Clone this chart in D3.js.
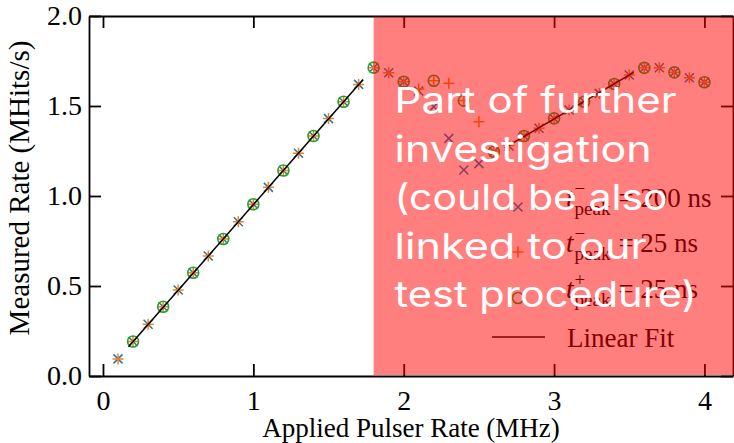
<!DOCTYPE html>
<meta charset="utf-8">
<style>

body { margin: 0; background: #fff; }

.axis text {
  font-family: "Liberation Serif", serif;
  font-size: 28px;
  fill: #000;
}

.axis path, .axis line {
  stroke: #000;
  stroke-width: 1.8px;
}

.fit {
  fill: none;
  stroke: #000;
  stroke-width: 1.5px;
}

.title, .legend text {
  font-family: "Liberation Serif", serif;
  font-size: 27px;
  fill: #000;
}

.note {
  font-family: Inter, sans-serif;
  font-size: 36px;
  fill: #fff;
}

</style>
<body>

<script src="https://cdn.jsdelivr.net/npm/d3@7"></script>
<script>

// applied pulser rate (MHz)
var pulserRate = [0.1, 0.2, 0.3, 0.4, 0.5, 0.6, 0.7, 0.8, 0.9, 1.0,
                  1.1, 1.2, 1.3, 1.4, 1.5, 1.6, 1.7, 1.8, 1.9, 2.0,
                  2.1, 2.2, 2.3, 2.4, 2.5, 2.6, 2.7, 2.8, 2.9, 3.0,
                  3.1, 3.2, 3.3, 3.4, 3.5, 3.6, 3.7, 3.8, 3.9, 4.0];

// measured rate (MHits/s), t_peak^- = 200 ns
var rateMinus200 = [0.095, 0.192, 0.287, 0.385, 0.478, 0.574, 0.667, 0.761, 0.857, 0.954,
                    1.048, 1.142, 1.237, 1.333, 1.430, 1.524, 1.620, 1.713, 1.685, 1.635,
                    1.583, 1.496, 1.320, 1.144, 1.180, 1.246, 1.278, 1.333, 1.376, 1.431,
                    1.478, 1.524, 1.570, 1.622, 1.672, 1.712, 1.713, 1.687, 1.657, 1.632];

// t_peak^- = 25 ns
var rateMinus25 = [0.095, 0.192, 0.287, 0.385, 0.478, 0.574, 0.667, 0.761, 0.857, 0.954,
                   1.048, 1.142, 1.237, 1.333, 1.430, 1.524, 1.620, 1.713, 1.685, 1.635,
                   1.595, 1.640, 1.626, 1.530, 1.413, 1.250, 1.280, 1.333, 1.376, 1.431,
                   1.478, 1.524, 1.570, 1.622, 1.672, 1.712, 1.713, 1.687, 1.657, 1.632];

// t_peak^+ = 25 ns (every second rate)
var pulserRatePlus = [0.2, 0.4, 0.6, 0.8, 1.0, 1.2, 1.4, 1.6, 1.8, 2.0,
                      2.2, 2.4, 2.6, 2.8, 3.0, 3.2, 3.4, 3.6, 3.8, 4.0];
var ratePlus25 = [0.192, 0.385, 0.574, 0.761, 0.954, 1.142, 1.333, 1.524, 1.713, 1.635,
                  1.640, 1.530, 1.246, 1.333, 1.431, 1.524, 1.622, 1.712, 1.687, 1.632];

// linear fits: start / end
var fitFrom = [0.17, 2.67];
var fitTo = [1.73, 3.53];
var fitFromRate = [0.162, 1.267];
var fitToRate = [1.647, 1.687];

var xTicks = [0, 1, 2, 3, 4];
var yTicks = [0, 0.5, 1, 1.5, 2];

var legendSign = ["\u2212", "\u2212", "+"];
var legendValue = ["= 200 ns", "= 25 ns", "= 25 ns"];

var highlightFrom = 1.8;
var noteLines = ["Part of further", "investigation", "(could be also", "linked to our", "test procedure)"];

var colors = ["#1f77b4", "#ff7f0e", "#2ca02c"];

var margin = {top: 16, right: 1, bottom: 67, left: 89},
    width = 734 - margin.left - margin.right,
    height = 443 - margin.top - margin.bottom;

var x = d3.scaleLinear().domain([-0.093, 4.19]).range([0, width]);
var y = d3.scaleLinear().domain([0, 2]).range([height, 0]);

var svg = d3.select("body").append("svg")
    .attr("width", width + margin.left + margin.right)
    .attr("height", height + margin.top + margin.bottom)
  .append("g")
    .attr("transform", "translate(" + margin.left + "," + margin.top + ")");

// marker shapes
function crossPath(s) { return "M" + -s + "," + -s + "L" + s + "," + s + "M" + -s + "," + s + "L" + s + "," + -s; }
function plusPath(s) { return "M" + -s + ",0H" + s + "M0," + -s + "V" + s; }

function drawSeries(xs, ys, kind, color) {
  var pts = svg.append("g").selectAll("path")
    .data(d3.zip(xs, ys))
    .enter();
  if (kind === "circle") {
    pts.append("circle")
        .attr("cx", function(d) { return x(d[0]); })
        .attr("cy", function(d) { return y(d[1]); })
        .attr("r", 5.5)
        .attr("fill", "none")
        .attr("stroke", color)
        .attr("stroke-width", 1.6);
  } else {
    pts.append("path")
        .attr("transform", function(d) { return "translate(" + x(d[0]) + "," + y(d[1]) + ")"; })
        .attr("d", kind === "cross" ? crossPath(4.5) : plusPath(5.5))
        .attr("fill", "none")
        .attr("stroke", color)
        .attr("stroke-width", 1.5);
  }
}

drawSeries(pulserRate, rateMinus200, "cross", colors[0]);
drawSeries(pulserRate, rateMinus25, "plus", colors[1]);
drawSeries(pulserRatePlus, ratePlus25, "circle", colors[2]);

// linear fits
svg.append("g").selectAll("line")
    .data(d3.range(fitFrom.length))
    .enter().append("line")
    .attr("class", "fit")
    .attr("x1", function(i) { return x(fitFrom[i]); })
    .attr("y1", function(i) { return y(fitFromRate[i]); })
    .attr("x2", function(i) { return x(fitTo[i]); })
    .attr("y2", function(i) { return y(fitToRate[i]); });

// axes, ticks pointing inward on all four sides
svg.append("g")
    .attr("class", "axis")
    .attr("transform", "translate(0," + height + ")")
    .call(d3.axisBottom(x).tickValues(xTicks).tickFormat(d3.format("d"))
      .tickSizeInner(-12).tickSizeOuter(0).tickPadding(14));

svg.append("g")
    .attr("class", "axis")
    .call(d3.axisTop(x).tickValues(xTicks).tickFormat("")
      .tickSizeInner(-12).tickSizeOuter(0));

svg.append("g")
    .attr("class", "axis")
    .call(d3.axisLeft(y).tickValues(yTicks).tickFormat(d3.format(".1f"))
      .tickSizeInner(-12).tickSizeOuter(0).tickPadding(7));

svg.append("g")
    .attr("class", "axis")
    .attr("transform", "translate(" + width + ",0)")
    .call(d3.axisRight(y).tickValues(yTicks).tickFormat("")
      .tickSizeInner(-12).tickSizeOuter(0));

svg.append("text")
    .attr("class", "title")
    .attr("text-anchor", "middle")
    .attr("x", width / 2)
    .attr("y", height + 61)
    .text("Applied Pulser Rate (MHz)");

svg.append("text")
    .attr("class", "title")
    .attr("text-anchor", "middle")
    .style("font-size", "29px")
    .attr("transform", "translate(-60," + (height / 2 - 8) + ") rotate(-90)")
    .text("Measured Rate (MHits/s)");

// legend
var legend = svg.append("g").attr("class", "legend");
var rowY = [191, 236, 282];
var kinds = ["cross", "plus", "circle"];
kinds.forEach(function(k, i) {
  if (k === "circle") {
    legend.append("circle").attr("cx", 429).attr("cy", rowY[i]).attr("r", 5.5)
        .attr("fill", "none").attr("stroke", colors[i]).attr("stroke-width", 1.6);
  } else {
    legend.append("path")
        .attr("transform", "translate(429," + rowY[i] + ")")
        .attr("d", k === "cross" ? crossPath(4.5) : plusPath(5.5))
        .attr("fill", "none").attr("stroke", colors[i]).attr("stroke-width", 1.5);
  }
  var t = legend.append("text").attr("x", 477).attr("y", rowY[i])
      .style("font-style", "italic").text("t");
  var tx = 477 + t.node().getComputedTextLength() + 1;
  legend.append("text").attr("x", tx).attr("y", rowY[i] - 12)
      .style("font-size", "19px").text(legendSign[i]);
  var sub = legend.append("text").attr("x", tx).attr("y", rowY[i] + 8)
      .style("font-size", "19px").text("peak");
  legend.append("text")
      .attr("x", tx + sub.node().getComputedTextLength() + 8)
      .attr("y", rowY[i])
      .text(legendValue[i]);
});
legend.append("line")
    .attr("class", "fit")
    .attr("x1", 403).attr("x2", 456)
    .attr("y1", 321).attr("y2", 321);
legend.append("text").attr("x", 478).attr("y", 331).text("Linear Fit");

// highlighted region overlay
svg.append("rect")
    .attr("x", x(highlightFrom))
    .attr("y", 1)
    .attr("width", width + margin.right - x(highlightFrom))
    .attr("height", height - 2)
    .attr("fill", "red")
    .attr("fill-opacity", 0.5);

var noteWidths = [282, 257, 273, 252, 302];
svg.append("g").selectAll("text")
    .data(noteLines)
    .enter().append("text")
    .attr("class", "note")
    .attr("x", x(highlightFrom) + 21)
    .attr("y", function(d, i) { return 97 + i * 48.5; })
    .attr("textLength", function(d, i) { return noteWidths[i]; })
    .attr("lengthAdjust", "spacingAndGlyphs")
    .text(function(d) { return d; });

</script>
</body>
</html>
